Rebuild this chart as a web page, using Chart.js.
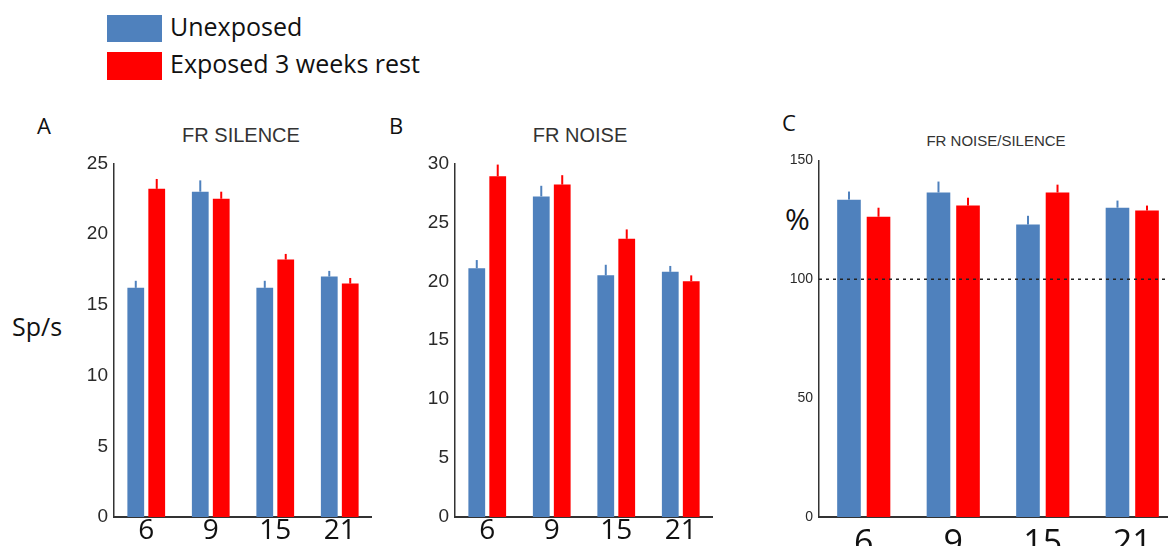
<!DOCTYPE html>
<html>
<head>
<meta charset="utf-8">
<script src="https://cdn.jsdelivr.net/npm/chart.js@4.4.1/dist/chart.umd.min.js"></script>
<style>
  html, body { margin: 0; padding: 0; background: #fff; width: 1168px; height: 546px; overflow: hidden; }
  body { position: relative; font-family: 'Open Sans', sans-serif; color: #111; }
  .abs { position: absolute; white-space: nowrap; }
  .swatch { position: absolute; }
  .ttl { position: absolute; font-family: 'Liberation Sans', Arial, sans-serif; color: #333; transform: translateX(-50%); white-space: nowrap; }
  canvas { position: absolute; }
</style>
</head>
<body>
<div class="swatch" style="left:107px;top:15px;width:55px;height:27px;background:#4f81bd;"></div>
<div class="swatch" style="left:107px;top:52px;width:55px;height:28px;background:#ff0000;"></div>
<div class="abs" style="left:170px;top:14px;font-size:25px;line-height:25px;">Unexposed</div>
<div class="abs" style="left:170px;top:51px;font-size:25px;line-height:25px;">Exposed 3 weeks rest</div>

<div class="abs" style="left:37px;top:114px;font-size:22px;line-height:22px;">A</div>
<div class="abs" style="left:389px;top:114px;font-size:22px;line-height:22px;">B</div>
<div class="abs" style="left:782px;top:111px;font-size:22px;line-height:22px;">C</div>

<div class="ttl" style="left:241px;top:125px;font-size:20px;line-height:20px;">FR SILENCE</div>
<div class="ttl" style="left:580px;top:125px;font-size:20px;line-height:20px;">FR NOISE</div>
<div class="ttl" style="left:996px;top:133px;font-size:15px;line-height:15px;">FR NOISE/SILENCE</div>

<div class="abs" style="left:12px;top:314px;font-size:25px;line-height:25px;">Sp/s</div>
<div class="abs" style="left:785px;top:204px;font-size:30px;line-height:30px;">%</div>

<canvas id="chart-a" width="298" height="400" style="left:74px;top:146px;"></canvas>
<canvas id="chart-b" width="298" height="400" style="left:415px;top:146px;"></canvas>
<canvas id="chart-c" width="398" height="400" style="left:779px;top:146px;"></canvas>

<script>
// ages (days) on the x axis
const ages = ['6', '9', '15', '21'];

// FR SILENCE (Sp/s)
const silenceUnexposed = [16.2, 23.0, 16.2, 17.0];
const silenceUnexposedErr = [0.5, 0.8, 0.5, 0.4];
const silenceExposed = [23.2, 22.5, 18.2, 16.5];
const silenceExposedErr = [0.7, 0.5, 0.4, 0.4];

// FR NOISE (Sp/s)
const noiseUnexposed = [21.1, 27.2, 20.5, 20.8];
const noiseUnexposedErr = [0.7, 0.9, 0.9, 0.5];
const noiseExposed = [28.9, 28.2, 23.6, 20.0];
const noiseExposedErr = [1.0, 0.8, 0.8, 0.5];

// FR NOISE/SILENCE (%)
const ratioUnexposed = [133.5, 136.5, 123.0, 130.1];
const ratioUnexposedErr = [3.4, 4.6, 3.7, 3.0];
const ratioExposed = [126.3, 131.0, 136.5, 128.9];
const ratioExposedErr = [3.8, 3.3, 3.3, 2.1];

const BLUE = '#4f81bd';
const RED = '#ff0000';

// error bars: only the upper whisker, same colour as the bar
const errorBarPlugin = {
    id: 'errorBars',
    afterDatasetsDraw(chart) {
        const ctx = chart.ctx;
        const yScale = chart.scales.y;
        chart.data.datasets.forEach((ds, i) => {
            if (!ds.errors) return;
            const meta = chart.getDatasetMeta(i);
            ctx.save();
            ctx.strokeStyle = ds.backgroundColor;
            ctx.lineWidth = 2;
            meta.data.forEach((bar, j) => {
                const yTop = yScale.getPixelForValue(ds.data[j] + ds.errors[j]);
                ctx.beginPath();
                ctx.moveTo(bar.x, bar.y);
                ctx.lineTo(bar.x, yTop);
                ctx.stroke();
            });
            ctx.restore();
        });
    }
};

// dotted reference line (panel C)
const refLinePlugin = {
    id: 'refLine',
    afterDatasetsDraw(chart, args, opts) {
        if (opts.value == null) return;
        const ctx = chart.ctx;
        const y = chart.scales.y.getPixelForValue(opts.value);
        ctx.save();
        ctx.strokeStyle = '#222';
        ctx.lineWidth = 1.5;
        ctx.setLineDash([3, 4]);
        ctx.beginPath();
        ctx.moveTo(chart.chartArea.left, y);
        ctx.lineTo(chart.chartArea.right, y);
        ctx.stroke();
        ctx.restore();
    }
};

function makePanel(id, unexp, unexpErr, exp, expErr, yMax, yStep, opt) {
    const ctx = document.getElementById(id).getContext('2d');
    return new Chart(ctx, {
        type: 'bar',
        data: {
            labels: ages,
            datasets: [
                { label: 'Unexposed', data: unexp, errors: unexpErr, backgroundColor: BLUE,
                  categoryPercentage: opt.cp, barPercentage: 0.8 },
                { label: 'Exposed 3 weeks rest', data: exp, errors: expErr, backgroundColor: RED,
                  categoryPercentage: opt.cp, barPercentage: 0.8 }
            ]
        },
        options: {
            responsive: false,
            devicePixelRatio: 1,
            animation: false,
            layout: { padding: { top: 13, right: 0, left: 0, bottom: 0 } },
            plugins: {
                legend: { display: false },
                tooltip: { enabled: false },
                refLine: { value: opt.refLine }
            },
            scales: {
                x: {
                    grid: { display: false, drawTicks: false },
                    border: { color: '#333', width: 2 },
                    ticks: {
                        color: '#111',
                        padding: opt.xPad,
                        font: { family: "'Open Sans', sans-serif", size: opt.xFont }
                    },
                    afterFit: s => { s.height = 29; }
                },
                y: {
                    min: 0,
                    max: yMax,
                    grid: { display: false, drawTicks: false },
                    border: { color: '#333', width: 1.5 },
                    ticks: {
                        stepSize: yStep,
                        color: '#2a2a2a',
                        padding: 6,
                        font: { family: "'Liberation Sans', Arial, sans-serif", size: opt.yFont }
                    },
                    afterFit: s => { s.width = 40; }
                }
            }
        },
        plugins: [errorBarPlugin, refLinePlugin]
    });
}

makePanel('chart-a', silenceUnexposed, silenceUnexposedErr, silenceExposed, silenceExposedErr, 25, 5,
    { cp: 0.65, xFont: 28, yFont: 19, xPad: -3 });
makePanel('chart-b', noiseUnexposed, noiseUnexposedErr, noiseExposed, noiseExposedErr, 30, 5,
    { cp: 0.65, xFont: 28, yFont: 19, xPad: -3 });
makePanel('chart-c', ratioUnexposed, ratioUnexposedErr, ratioExposed, ratioExposedErr, 150, 50,
    { cp: 0.66, xFont: 34, yFont: 14, xPad: 7, refLine: 100 });
</script>
</body>
</html>
